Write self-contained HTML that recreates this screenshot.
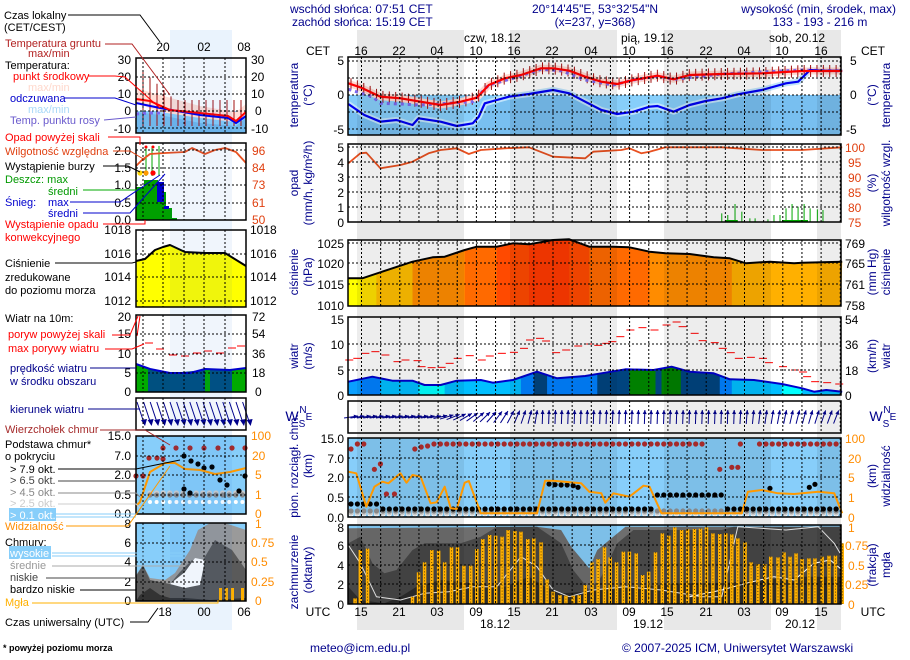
<!DOCTYPE html>
<html><head><meta charset="utf-8">
<style>
html,body{margin:0;padding:0;background:#fff;}
svg{display:block;font-family:"Liberation Sans",Arial,sans-serif;}
.t{font-size:12px;}
.lg{font-size:11px;}
</style></head><body>
<svg id="s" width="910" height="660" viewBox="0 0 910 660" xmlns="http://www.w3.org/2000/svg">
<rect width="910" height="660" fill="#fff"/>
<g id="bg"></g>
<g id="gfx"></g>
<g class="t" fill="#000">
<!-- header -->
<text x="290" y="13" fill="#00008b">wschód słońca: 07:51 CET</text>
<text x="292" y="26" fill="#00008b">zachód słońca: 15:19 CET</text>
<text x="595" y="13" fill="#00008b" text-anchor="middle">20°14'45"E, 53°32'54"N</text>
<text x="595" y="26" fill="#00008b" text-anchor="middle">(x=237,  y=368)</text>
<text x="896" y="13" fill="#00008b" text-anchor="end">wysokość (min, środek, max)</text>
<text x="820" y="26" fill="#00008b" text-anchor="middle">133 - 193 - 216 m</text>
<text x="464" y="42">czw, 18.12</text>
<text x="621" y="42">pią, 19.12</text>
<text x="769" y="42">sob, 20.12</text>
<g text-anchor="middle">
<text x="318" y="55">CET</text><text x="873" y="55">CET</text>
<text x="361" y="55">16</text><text x="399" y="55">22</text><text x="437" y="55">04</text><text x="476" y="55">10</text><text x="514" y="55">16</text><text x="552" y="55">22</text><text x="591" y="55">04</text><text x="629" y="55">10</text><text x="667" y="55">16</text><text x="706" y="55">22</text><text x="744" y="55">04</text><text x="782" y="55">10</text><text x="821" y="55">16</text>
<text x="318" y="616">UTC</text><text x="873" y="616">UTC</text>
<text x="361" y="616">15</text><text x="399" y="616">21</text><text x="437" y="616">03</text><text x="476" y="616">09</text><text x="514" y="616">15</text><text x="552" y="616">21</text><text x="591" y="616">03</text><text x="629" y="616">09</text><text x="667" y="616">15</text><text x="706" y="616">21</text><text x="744" y="616">03</text><text x="782" y="616">09</text><text x="821" y="616">15</text>
<text x="495" y="628">18.12</text><text x="648" y="628">19.12</text><text x="800" y="628">20.12</text>
</g>
<!-- main axis labels -->
<g text-anchor="end">
<text x="344" y="65">5</text><text x="344" y="99">0</text><text x="344" y="134">-5</text>
<text x="344" y="152">5</text><text x="344" y="167">4</text><text x="344" y="182">3</text><text x="344" y="197">2</text><text x="344" y="212">1</text><text x="344" y="227">0</text>
<text x="344" y="248">1025</text><text x="344" y="268">1020</text><text x="344" y="289">1015</text><text x="344" y="310">1010</text>
<text x="344" y="324">15</text><text x="344" y="349">10</text><text x="344" y="375">5</text><text x="344" y="400">0</text>
<text x="344" y="443">15.0</text><text x="344" y="463">7.0</text><text x="344" y="482">2.0</text><text x="344" y="502">0.5</text><text x="344" y="522">0.0</text>
<text x="344" y="532">8</text><text x="344" y="550">6</text><text x="344" y="570">4</text><text x="344" y="589">2</text><text x="344" y="609">0</text>
</g>
<g>
<text x="850" y="65">5</text><text x="850" y="99">0</text><text x="846" y="134">-5</text>
<g fill="#e04010"><text x="845" y="152">100</text><text x="848" y="167">95</text><text x="848" y="182">90</text><text x="848" y="197">85</text><text x="848" y="212">80</text><text x="848" y="227">75</text></g>
<text x="845" y="248">769</text><text x="845" y="268">765</text><text x="845" y="289">761</text><text x="845" y="310">758</text>
<text x="845" y="324">54</text><text x="845" y="349">36</text><text x="845" y="375">18</text><text x="845" y="400">0</text>
<g fill="#ff8c00"><text x="845" y="443">100</text><text x="848" y="463">20</text><text x="848" y="482">5</text><text x="848" y="502">1</text><text x="848" y="522">0</text>
<text x="848" y="532">1</text><text x="845" y="550">0.75</text><text x="848" y="570">0.5</text><text x="845" y="589">0.25</text><text x="848" y="609">0</text></g>
</g>
<!-- rotated titles -->
<g fill="#00008b" text-anchor="middle">
<text transform="translate(298,95) rotate(-90)">temperatura</text><text transform="translate(312,95) rotate(-90)">(°C)</text>
<text transform="translate(298,183) rotate(-90)">opad</text><text transform="translate(312,183) rotate(-90)">(mm/h, kg/m²/h)</text>
<text transform="translate(298,272) rotate(-90)">ciśnienie</text><text transform="translate(312,272) rotate(-90)">(hPa)</text>
<text transform="translate(298,356) rotate(-90)">wiatr</text><text transform="translate(312,356) rotate(-90)">(m/s)</text>
<text transform="translate(298,466) rotate(-90)">pion. rozciągł. chm.</text><text transform="translate(312,466) rotate(-90)">(km)</text>
<text transform="translate(298,572) rotate(-90)">zachmurzenie</text><text transform="translate(312,570) rotate(-90)">(oktanty)</text>
<text transform="translate(890,95) rotate(-90)">temperatura</text><text transform="translate(876,95) rotate(-90)">(°C)</text>
<text transform="translate(890,183) rotate(-90)">wilgotność wzgl.</text><text transform="translate(876,183) rotate(-90)">(%)</text>
<text transform="translate(890,272) rotate(-90)">ciśnienie</text><text transform="translate(876,272) rotate(-90)">(mm Hg)</text>
<text transform="translate(890,356) rotate(-90)">wiatr</text><text transform="translate(876,356) rotate(-90)">(km/h)</text>
<text transform="translate(890,476) rotate(-90)">widzialność</text><text transform="translate(876,476) rotate(-90)">(km)</text>
<text transform="translate(890,565) rotate(-90)">mgła</text><text transform="translate(876,565) rotate(-90)">(frakcja)</text>
<text x="292" y="421" font-size="14">W</text><text x="302" y="427" font-size="10">S</text><text x="303" y="413" font-size="10">N</text><text x="309" y="420" font-size="10">E</text>
<text x="876" y="421" font-size="14">W</text><text x="886" y="427" font-size="10">S</text><text x="887" y="413" font-size="10">N</text><text x="893" y="420" font-size="10">E</text>
</g>
<!-- left panel axis -->
<g text-anchor="middle"><text x="163" y="51">20</text><text x="204" y="51">02</text><text x="244" y="51">08</text>
<text x="165" y="616">18</text><text x="204" y="616">00</text><text x="244" y="616">06</text></g>
<g text-anchor="end">
<text x="131" y="64">30</text><text x="131" y="81">20</text><text x="131" y="98">10</text><text x="131" y="115">0</text><text x="131" y="133">-10</text>
<text x="131" y="155">2.0</text><text x="131" y="172">1.5</text><text x="131" y="189">1.0</text><text x="131" y="207">0.5</text><text x="131" y="224">0.0</text>
<text x="131" y="234">1018</text><text x="131" y="258">1016</text><text x="131" y="281">1014</text><text x="131" y="305">1012</text>
<text x="131" y="321">20</text><text x="131" y="338">15</text><text x="131" y="358">10</text><text x="131" y="377">5</text><text x="131" y="396">0</text>
<text x="131" y="440">15.0</text><text x="131" y="460">7.0</text><text x="131" y="479">2.0</text><text x="131" y="499">0.5</text><text x="131" y="518">0.0</text>
<text x="131" y="528">8</text><text x="131" y="547">6</text><text x="131" y="566">4</text><text x="131" y="586">2</text><text x="131" y="605">0</text>
</g>
<g>
<text x="251" y="64">30</text><text x="251" y="81">20</text><text x="251" y="98">10</text><text x="255" y="115">0</text><text x="251" y="133">-10</text>
<g fill="#e04010"><text x="252" y="155">96</text><text x="252" y="172">84</text><text x="252" y="189">73</text><text x="252" y="207">61</text><text x="252" y="224">50</text></g>
<text x="250" y="234">1018</text><text x="250" y="258">1016</text><text x="250" y="281">1014</text><text x="250" y="305">1012</text>
<text x="252" y="321">72</text><text x="252" y="338">54</text><text x="252" y="358">36</text><text x="252" y="377">18</text><text x="255" y="396">0</text>
<g fill="#ff8c00"><text x="251" y="440">100</text><text x="252" y="460">20</text><text x="255" y="479">5</text><text x="255" y="499">1</text><text x="255" y="518">0</text>
<text x="255" y="528">1</text><text x="251" y="547">0.75</text><text x="251" y="566">0.5</text><text x="251" y="586">0.25</text><text x="255" y="605">0</text></g>
</g>
<!-- legend texts -->
<g class="lg">
<text x="4" y="19">Czas lokalny</text><text x="4" y="31">(CET/CEST)</text>
<text x="5" y="47" fill="#b22222">Temperatura gruntu</text><text x="28" y="57" fill="#b22222">max/min</text>
<text x="5" y="69">Temperatura:</text>
<text x="13" y="80" fill="#ff0000">punkt środkowy</text>
<text x="28" y="91" fill="#ffd8cc">max/min</text>
<text x="10" y="102" fill="#0000cd">odczuwana</text>
<text x="28" y="113" fill="#a8d8f8">max/min</text>
<text x="10" y="124" fill="#6a5acd">Temp. punktu rosy</text>
<text x="5" y="141" fill="#ff0000">Opad powyżej skali</text>
<text x="5" y="155" fill="#e04010">Wilgotność względna</text>
<text x="5" y="170">Wystąpienie burzy</text>
<text x="5" y="183" fill="#009900">Deszcz: max</text><text x="48" y="195" fill="#009900">średni</text>
<text x="5" y="206" fill="#0000cd">Śnieg:</text><text x="48" y="206" fill="#0000cd">max</text><text x="48" y="217" fill="#0000cd">średni</text>
<text x="5" y="228" fill="#ff0000">Wystąpienie opadu</text><text x="5" y="241" fill="#ff0000">konwekcyjnego</text>
<text x="5" y="267">Ciśnienie</text><text x="5" y="281">zredukowane</text><text x="5" y="294">do poziomu morza</text>
<text x="5" y="322">Wiatr na 10m:</text>
<text x="8" y="338" fill="#ff0000">poryw powyżej skali</text><text x="8" y="352" fill="#ff0000">max porywy wiatru</text>
<text x="10" y="372" fill="#00008b">prędkość wiatru</text><text x="10" y="385" fill="#00008b">w środku obszaru</text>
<text x="10" y="413" fill="#00008b">kierunek wiatru</text>
<text x="5" y="433" fill="#a52a2a">Wierzchołek chmur</text>
<text x="5" y="448">Podstawa chmur*</text><text x="5" y="460">o pokryciu</text>
<text x="10" y="473">&gt; 7.9 okt.</text>
<text x="10" y="484" fill="#444">&gt; 6.5 okt.</text>
<text x="10" y="496" fill="#888">&gt; 4.5 okt.</text>
<text x="10" y="507" fill="#ccc">&gt; 2.5 okt.</text>
<rect x="9" y="508" width="47" height="13" fill="#87cefa"/><text x="10" y="519" fill="#fff">&gt; 0.1 okt.</text>
<text x="5" y="530" fill="#ff8c00">Widzialność</text>
<text x="5" y="546">Chmury:</text>
<rect x="9" y="546" width="42" height="13" fill="#87cefa"/><text x="10" y="557" fill="#fff">wysokie</text>
<text x="10" y="569" fill="#999">średnie</text>
<text x="10" y="581" fill="#444">niskie</text>
<text x="10" y="593">bardzo niskie</text>
<text x="5" y="606" fill="#ffb000">Mgła</text>
<text x="5" y="626">Czas uniwersalny (UTC)</text>
</g>
<text x="3" y="651" font-size="9" font-weight="bold">* powyżej poziomu morza</text>
<text x="310" y="652" fill="#00008b">meteo@icm.edu.pl</text>
<text x="622" y="652" fill="#00008b">© 2007-2025 ICM, Uniwersytet Warszawski</text>
</g>
<g id="lines" fill="none" stroke-width="1"></g>
</svg>
<script>
const NS="http://www.w3.org/2000/svg";
const bg=document.getElementById('bg'),G=document.getElementById('gfx'),L=document.getElementById('lines');
function el(par,tag,a){const e=document.createElementNS(NS,tag);for(const k in a)e.setAttribute(k,a[k]);par.appendChild(e);return e;}
function pts(a){return a.map(p=>p[0].toFixed(1)+','+p[1].toFixed(1)).join(' ');}
function Z3(a){return a.map(([x,y])=>[280+x/2.49,y/3]);}
function Z4(a){return a.map(([x,y])=>[280+x/2.49,310+y/3]);}
const X0=348,X1=841;
el(bg,'rect',{x:170,y:30,width:62,height:600,fill:'#eaf3fd'});
[[357,464],[510,617],[664,771],[817,841]].forEach(b=>el(bg,'rect',{x:b[0],y:30,width:b[1]-b[0],height:600,fill:'#e8e8e8'}));
const panels=[[57,135],[144,222],[240,306],[317,395],[401,433],[438,517],[525,604]];
const lp=[[58,133],[143,220],[230,307],[315,392],[398,430],[436,514],[523,601]];
panels.forEach(p=>el(G,'rect',{x:X0,y:p[0],width:X1-X0,height:p[1]-p[0],fill:'#fff'}));
lp.forEach(p=>el(G,'rect',{x:136,y:p[0],width:110,height:p[1]-p[0],fill:'#fff'}));
function clipRect(id,x,y,w,h){const d=el(G,'clipPath',{id:id});el(d,'rect',{x:x,y:y,width:w,height:h});}
function poly(a,fill,clip,extra){const o={points:pts(a),fill:fill};if(clip)o['clip-path']='url(#'+clip+')';Object.assign(o,extra||{});return el(G,'polygon',o);}
function line(a,stroke,w,extra){const o={points:pts(a),fill:'none',stroke:stroke,'stroke-width':w,'stroke-linejoin':'round'};Object.assign(o,extra||{});return el(G,'polyline',o);}
// temperature
el(G,'rect',{x:X0,y:95,width:X1-X0,height:40,fill:'#87cefa'});
const red=Z3([[170,250],[200,262],[250,290],[300,295],[350,305],[400,315],[450,305],[490,293],[520,255],[560,235],[600,225],[650,205],[680,205],[720,212],[760,230],[800,245],[840,252],[880,240],[940,227],[980,238],[1020,225],[1100,222],[1200,220],[1300,213],[1400,213]]);
const blu=Z3([[170,312],[210,345],[250,365],[290,360],[330,375],[345,355],[400,365],[440,378],[480,370],[495,350],[510,310],[540,300],[570,290],[620,282],[680,270],[720,280],[760,305],[800,330],[840,342],[880,335],[920,320],[940,318],[980,335],[1020,315],[1060,303],[1100,295],[1140,283],[1200,270],[1260,250],[1290,245],[1320,210],[1350,212],[1400,212]]);
const dew=Z3([[170,268],[230,290],[250,310],[300,312],[350,315],[420,310],[480,305],[500,280],[520,255],[580,235],[650,208],[700,212],[760,240],[830,255],[880,240],[940,228],[980,238],[1100,222],[1300,210],[1400,213]]);
clipRect('cT',X0,57,X1-X0,78);
poly([[X0,135]].concat(blu.map(p=>[p[0],Math.max(p[1],95)])).concat([[X1,135]]),'#78bff0','cT');
line(blu,'#c0e4fb',6,{'clip-path':'url(#cT)'});
line(red,'#ffd8d0',7,{'clip-path':'url(#cT)'});
for(let h=0;h<77;h+=1){const x=X0+6.383*h+3;if(x>X1)break;let yi=red.findIndex(p=>p[0]>x);let p0=red[Math.max(yi-1,0)],p1=red[Math.max(yi,1)];let y=p0[1]+(p1[1]-p0[1])*((x-p0[0])/((p1[0]-p0[0])||1));if(!(y>0))y=100;el(G,'line',{x1:x,y1:y-6,x2:x,y2:y+6,stroke:'#a01010','stroke-width':1});}
line(dew,'#7b68ee',3,{'stroke-dasharray':'3,4'});
line(blu,'#0000ee',2.2);
line(red,'#ff0000',2.2);
// precip
const hum=Z3([[170,490],[200,460],[215,458],[250,505],[300,495],[330,485],[370,460],[400,450],[440,445],[470,462],[500,450],[560,445],[620,442],[680,470],[760,475],[780,455],[850,450],[870,445],[900,460],[920,455],[960,442],[1100,442],[1200,450],[1300,450],[1400,442]]);
line(hum,'#e85020',1.8);
[[1100,640],[1115,645],[1133,612],[1150,635],[1170,655],[1183,655],[1215,658],[1230,645],[1245,645],[1260,625],[1275,612],[1290,620],[1305,612],[1320,625],[1338,628],[1352,630]].forEach(([x,y])=>{const X=280+x/2.49;el(G,'line',{x1:X,y1:y/3,x2:X,y2:222,stroke:'#00aa00','stroke-width':1});});
el(G,'rect',{x:280+1110/2.49,y:220,width:12,height:2,fill:'#00aa00'});el(G,'rect',{x:280+1250/2.49,y:220,width:26,height:2,fill:'#00aa00'});
// pressure
const pr=Z3([[170,835],[205,835],[280,805],[330,785],[380,772],[410,770],[460,750],[490,740],[540,740],[580,730],[620,733],[680,720],[720,718],[770,740],[830,740],[870,742],[920,755],[960,760],[1020,762],[1080,772],[1120,775],[1160,790],[1220,785],[1280,790],[1300,788],[1400,785]]);
const pl=[[X0,306]].concat(pr).concat([[X1,306]]);
const cp=el(G,'clipPath',{id:'cP'});el(cp,'polygon',{points:pts(pl)});
[[170,200,'#ffff00'],[200,240,'#ffe000'],[240,330,'#ffbe00'],[330,460,'#ff8c00'],[460,540,'#ff6a00'],[540,620,'#ff4a00'],[620,720,'#ff3a00'],[720,770,'#ff4a00'],[770,920,'#ff6a00'],[920,1125,'#ff8c00'],[1125,1400,'#ffb000']].forEach(([a,b,c])=>el(G,'rect',{x:280+a/2.49,y:230,width:(b-a)/2.49+0.5,height:80,fill:c,'clip-path':'url(#cP)'}));
line(pr,'#000',2);
// wind
const wl=Z4([[170,215],[230,200],[280,212],[330,212],[360,225],[400,225],[440,212],[500,210],[530,218],[580,210],[640,185],[690,205],[760,198],[800,190],[860,178],[930,180],[975,170],[1020,185],[1080,190],[1120,208],[1180,210],[1250,222],[1300,235],[1330,245],[1360,240],[1400,245]]);
const cw=el(G,'clipPath',{id:'cW'});el(cw,'polygon',{points:pts([[X0,395]].concat(wl).concat([[X1,395]]))});
[[170,200,'#0a9fff'],[200,250,'#0080ff'],[250,345,'#00bfff'],[345,410,'#00ffff'],[410,600,'#00bfff'],[600,632,'#0080ff'],[632,665,'#00447f'],[665,790,'#0080ff'],[790,870,'#00447f'],[870,935,'#008000'],[935,950,'#00447f'],[950,998,'#008000'],[998,1095,'#00447f'],[1095,1125,'#0080ff'],[1125,1250,'#00bfff'],[1250,1300,'#00ffff'],[1300,1400,'#00bfff']].forEach(([a,b,c])=>el(G,'rect',{x:280+a/2.49,y:317,width:(b-a)/2.49+0.5,height:80,fill:c,'clip-path':'url(#cW)'}));
line(wl,'#0000cd',2);
Z4([[170,150],[190,145],[210,130],[235,125],[260,135],[290,155],[310,150],[340,152],[350,170],[375,173],[400,172],[420,160],[440,145],[470,137],[500,150],[520,138],[550,130],[580,127],[605,115],[620,90],[645,85],[660,93],[685,128],[710,120],[740,108],[770,102],[790,106],[810,100],[825,95],[845,80],[870,60],[900,53],[930,60],[960,45],[985,36],[1000,50],[1030,70],[1050,92],[1080,98],[1100,115],[1120,128],[1140,145],[1170,142],[1200,145],[1215,158],[1250,170],[1280,180],[1300,186],[1310,200],[1330,215],[1360,218],[1390,222]]).forEach(p=>el(G,'line',{x1:p[0]-3,y1:p[1],x2:p[0]+5,y2:p[1],stroke:'#ff0000','stroke-width':1}));
// direction
for(let h=0;h<77;h++){const cx=X0+6.383*h+3,cy=417;let a=h<13?8:h<30?8+(h-13)*(77/17):h<60?88:88-(h-60)*1.2;const r=a*Math.PI/180,dx=Math.cos(r)*7,dy=-Math.sin(r)*7;
el(G,'line',{x1:cx-dx,y1:cy-dy,x2:cx+dx,y2:cy+dy,stroke:'#00008b','stroke-width':1});
const hx=cx+dx,hy=cy+dy,bx=-Math.cos(r)*4,by=Math.sin(r)*4,nx=-by*0.5,ny=bx*0.5;
el(G,'polygon',{points:pts([[hx,hy],[hx+bx+nx,hy+by+ny],[hx+bx-nx,hy+by-ny]]),fill:'#00008b'});}
// cloud base / cover bg
el(G,'rect',{x:X0,y:438,width:X1-X0,height:79,fill:'#87cefa'});
el(G,'rect',{x:X0,y:525,width:X1-X0,height:79,fill:'#87cefa'});
clipRect('cC',X0,525,X1-X0,79);
const cl=(a,c)=>poly([[X0,604]].concat(Z4(a)).concat([[X1,604]]),c,'cC');
cl([[170,655],[640,650],[700,660],[725,710],[770,775],[790,720],[830,680],[860,650],[1400,650]],'#6e6e6e');
cl([[170,700],[200,680],[230,760],[260,790],[290,780],[330,720],[360,700],[450,700],[500,680],[540,650],[640,650],[700,700],[730,780],[770,840],[800,800],[840,700],[880,660],[1100,660],[1130,650],[1400,650]],'#484848');
cl([[170,830],[200,870],[260,880],[300,860],[340,830],[400,810],[480,820],[560,830],[620,800],[660,830],[700,850],[760,845],[800,840],[900,830],[1000,820],[1100,820],[1200,810],[1300,800],[1400,800]],'#2c2c2c');
[[357,464],[510,617],[664,771],[817,841]].forEach(b=>panels.forEach(p=>el(G,'rect',{x:b[0],y:p[0],width:b[1]-b[0],height:p[1]-p[0],fill:'#000','fill-opacity':0.07})));
line(Z4([[170,705],[200,760],[240,860],[300,870],[360,850],[420,845],[480,830],[540,830],[600,740],[640,770],[680,840],[720,860],[780,840],[860,830],[950,840],[1050,860],[1100,860],[1140,650],[1260,660],[1340,650],[1380,700],[1400,740]]),'#e0e0e0',1);
line(Z4([[1020,860],[1100,840],[1160,820],[1230,800],[1280,810],[1330,760],[1370,750],[1400,780]]),'#fff',1);
[[200,720],[218,716],[330,860],[345,787],[360,757],[378,720],[395,722],[410,757],[427,712],[442,712],[458,767],[475,767],[490,717],[505,687],[522,675],[537,677],[553,680],[568,660],[585,663],[600,665],[617,687],[632,685],[650,697],[665,808],[680,845],[697,855],[712,857],[730,857],[745,855],[760,825],[777,757],[792,747],[808,712],[822,742],[838,757],[855,725],[870,725],[887,730],[903,795],[918,785],[935,727],[952,670],[968,677],[983,652],[1000,660],[1015,658],[1032,657],[1047,656],[1062,652],[1078,670],[1095,672],[1110,670],[1125,673],[1140,685],[1158,697],[1173,757],[1190,762],[1207,762],[1222,740],[1240,742],[1255,727],[1270,740],[1285,730],[1300,747],[1317,745],[1332,745],[1350,740],[1367,737],[1383,737],[1400,700],[187,865]].forEach(([x,y])=>{const X=280+x/2.49-1.75,Y=310+y/3;el(G,'rect',{x:X,y:Y,width:3.5,height:604-Y,fill:'#ffb000'});el(G,'line',{x1:X+1.75,y1:Y,x2:X+1.75,y2:604,stroke:'#000','stroke-width':0.6,'stroke-dasharray':'1,2'});});
const dot=(x,y,c,r)=>el(G,'circle',{cx:x,cy:y,r:r||2.6,fill:c});
for(let h=0;h<77;h++){const x=X0+6.383*h+3;
 dot(x,514,'#fff');dot(x,513,'#ccc');dot(x,511,'#888');
 let by=509; if(h>=48&&h<=58)by=495; if(h<=4)by=504;
 dot(x,by,'#000');
 let ty=444; if(h<1)ty=449; if(h>2&&h<10)ty=-1; if(h==10)ty=449;if(h==11)ty=447;if(h==12)ty=446;
 if(h>=56&&h<=60||h==62||h==63)ty=-1;
 if(ty>0)dot(x,ty,'#a52a2a');}
Z4([[235,478],[250,462],[265,552],[285,552],[1095,478],[1125,472],[1140,472]]).forEach(p=>dot(p[0],p[1],'#a52a2a'));
Z4([[670,522],[685,524],[700,525],[715,525],[730,527],[742,532],[1220,535],[1318,532],[1332,523]]).forEach(p=>dot(p[0],p[1],'#000'));
line(Z4([[170,485],[190,490],[215,590],[235,530],[255,515],[270,520],[300,490],[315,518],[330,495],[350,500],[375,580],[390,577],[410,530],[425,595],[440,597],[460,518],[470,513],[500,610],[640,610],[660,512],[680,512],[750,520],[770,545],[800,550],[810,578],[830,550],[850,555],[870,560],[905,527],[920,530],[950,610],[1150,610],[1165,545],[1200,540],[1240,550],[1280,552],[1340,545],[1380,550],[1400,610]]),'#ff9900',2);
// left panels
el(G,'rect',{x:136,y:111,width:110,height:22,fill:'#87cefa'});
poly([[136,133],[136,112],[160,115],[200,123],[236,126],[246,118],[246,133]],'#70b8ec');
poly([[136,88],[160,95],[200,106],[236,112],[246,104],[246,115],[236,122],[200,118],[160,112],[136,103]],'#ffe0d8');
for(let x=143;x<246;x+=7){el(G,'line',{x1:x,y1:Math.max(70,100-(x<175?(175-x)*0.9:0)),x2:x,y2:126,stroke:'#a01010','stroke-width':1});}
line([[136,114],[150,113],[165,113]],'#7b68ee',3,{'stroke-dasharray':'3,4'});
line([[136,103],[160,108],[200,115],[228,118],[236,123],[246,116]],'#0000ee',2);
line([[136,99],[150,101],[170,110],[200,113],[228,116],[236,121],[246,112]],'#ff0000',2);
el(G,'rect',{x:136,y:187,width:8,height:33,fill:'#00a000'});
el(G,'rect',{x:144,y:180,width:14,height:40,fill:'#00a000'});
el(G,'rect',{x:158,y:192,width:8,height:28,fill:'#00a000'});el(G,'rect',{x:166,y:208,width:6,height:12,fill:'#00a000'});el(G,'rect',{x:172,y:218,width:5,height:2,fill:'#00a000'});
el(G,'rect',{x:157,y:182,width:7,height:20,fill:'#0000cd'});el(G,'rect',{x:164,y:206,width:5,height:3,fill:'#0000cd'});
[[140,173],[146,173],[153,173]].forEach((p,i)=>{el(G,'line',{x1:p[0]+6,y1:146,x2:p[0]+6,y2:176,stroke:'#00aa00'});dot(p[0],p[1],['#ffd700','#ff9900','#ff0000'][i],2.6);});
dot(146,147,'#ff0000',1.5);dot(153,147,'#ff0000',1.5);
line([[136,166],[142,160],[150,154],[165,153],[185,152],[192,148],[205,154],[215,150],[225,148],[236,152],[246,163]],'#e85020',1.8);
const lpr=[[136,261],[145,259],[155,250],[163,247],[170,245],[185,252],[205,253],[225,253],[246,266]];
poly([[136,307]].concat(lpr).concat([[246,307]]),'#ffff00');line(lpr,'#000',2);
const lw=[[136,364],[150,369],[170,373],[190,373],[205,369],[230,370],[246,368]];
poly([[136,392]].concat(lw).concat([[246,392]]),'#00aa00');
poly([[148,392],[148,370],[170,373],[205,370],[205,392]],'#005080');
poly([[210,392],[210,370],[232,370],[232,392]],'#005080');
line(lw,'#0000cd',2);
[[137,336,140,316],[149,343],[160,349],[173,355],[185,356],[197,353],[208,351],[220,353],[232,348],[241,346]].forEach((p,i)=>{if(i==0){el(G,'line',{x1:p[0],y1:p[1],x2:p[2],y2:p[3],stroke:'#f00'});}else el(G,'line',{x1:p[0]-4,y1:p[1],x2:p[0]+4,y2:p[1],stroke:'#f00'});});
for(let x=140;x<247;x+=6.6){el(G,'line',{x1:x-3,y1:402,x2:x+4,y2:423,stroke:'#00008b'});el(G,'polygon',{points:pts([[x+5,426],[x+1,420],[x+7,419]]),fill:'#00008b'});}
el(G,'rect',{x:136,y:436,width:110,height:78,fill:'#87cefa'});
[163,176,190,204,218,232,245].forEach(x=>dot(x,448,'#a52a2a'));
[[136,476],[143,476],[149,458],[157,458],[163,459]].forEach(p=>dot(p[0],p[1],'#a52a2a'));
for(let x=150;x<246;x+=6.6){dot(x,493,'#ccc');dot(x,495,'#888');dot(x,502,'#fff',2);}
[[184,456],[191,461],[198,464],[204,468],[212,467],[220,480],[227,485],[245,476],[184,489],[190,493],[239,491]].forEach(p=>dot(p[0],p[1],'#000'));
line([[136,506],[140,502],[150,472],[165,463],[175,463],[185,469],[200,470],[215,474],[230,472],[246,468]],'#ff9900',2);
el(G,'rect',{x:136,y:523,width:110,height:78,fill:'#87cefa'});
poly([[136,601],[136,575],[143,565],[150,578],[165,580],[175,573],[190,550],[198,530],[210,523],[225,523],[246,530],[246,601]],'#9a9a9a');
poly([[136,601],[136,576],[143,565],[150,580],[170,584],[180,572],[192,560],[200,565],[215,540],[232,550],[246,570],[246,601]],'#5a5a5a');
poly([[136,601],[140,595],[150,588],[160,595],[170,598],[185,598],[210,600],[246,598],[246,601]],'#333');
poly([[170,584],[185,572],[195,558],[205,560],[200,585],[185,588]],'#fff');
[219,225,231,241].forEach(x=>el(G,'rect',{x:x,y:588,width:3,height:13,fill:'#ffb000'}));
lp.forEach(p=>el(G,'rect',{x:170,y:p[0],width:62,height:p[1]-p[0],fill:'#0050c8','fill-opacity':0.06}));
function vgrid(x0,x1,xs,p,hs){xs.forEach(x=>el(G,'line',{x1:x,y1:p[0],x2:x,y2:p[1],stroke:'#000','stroke-width':1,'stroke-dasharray':'2,2'}));hs.forEach(y=>el(G,'line',{x1:x0,y1:y,x2:x1,y2:y,stroke:'#000','stroke-width':1,'stroke-dasharray':'2,2'}));el(G,'rect',{x:x0,y:p[0],width:x1-x0,height:p[1]-p[0],fill:'none',stroke:'#000','stroke-width':1.5});}
const mx=[];for(let x=361.5;x<X1;x+=19.15)mx.push(x);
const hl=[[61,78,95,112,129],[147,162,177,192,207],[243,263,284],[344,370],[],[458,477,497],[545,565,584]];
panels.forEach((p,i)=>vgrid(X0,X1,mx,p,hl[i]));
const lx=[143,163,184,204,225];
const lhl=[[77,94,111,128],[150,168,185,203],[254,277,301],[334,354,373],[],[456,475,495],[543,562,582]];
lp.forEach((p,i)=>vgrid(136,246,lx,p,lhl[i]));
const ll=(a,c)=>{el(L,'polyline',{points:pts(a),stroke:c,fill:'none'});};
ll([[68,15],[140,15],[160,42]],'#000');
ll([[105,44],[132,44],[170,95]],'#b22222');
ll([[88,76],[115,76],[125,77],[160,108]],'#f00');
ll([[64,98],[115,98],[136,105]],'#0000cd');
ll([[104,120],[136,117]],'#6a5acd');
ll([[108,137],[140,137],[140,145]],'#f00');
ll([[113,151],[130,151],[145,160]],'#e04010');
ll([[103,166],[128,166],[140,172]],'#000');
ll([[83,190],[150,190]],'#00aa00');
ll([[70,202],[120,202],[160,175]],'#0000cd');
ll([[83,213],[130,213],[165,174]],'#0000cd');
ll([[103,224],[145,224],[145,220]],'#f00');
ll([[55,263],[132,263],[136,262]],'#000');
ll([[112,335],[130,335],[138,316]],'#f00');
ll([[105,349],[132,349],[144,344]],'#f00');
ll([[90,368],[136,368]],'#00008b');
ll([[88,409],[140,409]],'#00008b');
ll([[100,430],[145,430],[170,445]],'#a52a2a');
ll([[58,469],[136,469],[180,460]],'#000');
ll([[58,481],[136,481]],'#444');
ll([[58,493],[136,493],[140,497]],'#888');
ll([[58,504],[136,504],[140,508]],'#ccc');
ll([[56,514],[136,514]],'#87cefa');ll([[56,517],[136,517]],'#87cefa');
ll([[66,526],[128,526],[170,466]],'#ff9900');
ll([[52,553],[185,553]],'#87cefa');ll([[52,556],[185,556]],'#87cefa');
ll([[52,566],[185,566]],'#aaa');
ll([[46,578],[136,578]],'#444');
ll([[80,590],[136,590]],'#000');
ll([[32,603],[218,603],[218,600]],'#ffb000');
ll([[130,622],[148,622],[158,608]],'#000');
</script>
</body></html>
